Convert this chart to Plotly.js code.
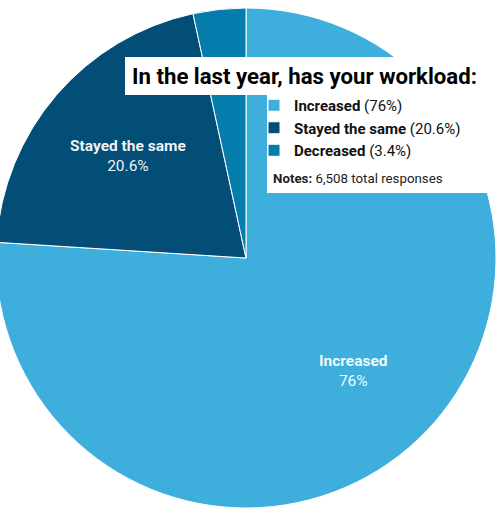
<!DOCTYPE html>
<html>
<head>
<meta charset="utf-8">
<script src="https://cdn.plot.ly/plotly-3.0.1.min.js"></script>
<style>
  html, body { margin: 0; padding: 0; background: #ffffff; overflow: hidden; width: 498px; height: 514px; }
  #chart { position: absolute; left: -4px; top: 0; width: 500px; height: 514px; }
</style>
</head>
<body>
<div id="chart"></div>
<script>
// ---- data ----
const categories = ["Increased", "Stayed the same", "Decreased"];
const values = [76, 20.6, 3.4];
const valueLabels = ["76%", "20.6%", "3.4%"];
const sliceColors = ["#3eafdd", "#034e77", "#047dad"];
const titleText = "In the last year, has your workload:";
const notesLabel = "Notes:";
const notesText = "6,508 total responses";

// legend labels built from the data
const legendLabels = categories.map((c, i) => "<b>" + c + "</b> (" + valueLabels[i] + ")");

// pixel -> paper helpers (layout 500x514, div shifted 4px left, margin t=2)
const W = 500, H = 514, T = 2, OFF = 4;
const px = x => (x + OFF) / W;
const py = y => (H - y) / (H - T);

const trace = {
  type: "pie",
  labels: legendLabels,
  values: values,
  sort: false,
  direction: "clockwise",
  rotation: 0,
  textinfo: "none",
  hoverinfo: "label",
  marker: { colors: sliceColors, line: { color: "#ffffff", width: 1 } },
  domain: { x: [0, 1], y: [0, 1] },
  showlegend: true
};

// slice label positions (text only)
const sliceLabelPos = [[353, 371], [128, 156], null];
const annotations = [];
categories.forEach((c, i) => {
  const p = sliceLabelPos[i];
  if (!p) return;
  annotations.push({
    xref: "paper", yref: "paper", x: px(p[0]), y: py(p[1]),
    xanchor: "center", yanchor: "middle", showarrow: false, align: "center",
    text: "<b>" + c + "</b><br>" + valueLabels[i],
    font: { family: "Roboto, sans-serif", size: 15.5, color: "rgba(255,255,255,0.95)" }
  });
});
annotations.push({
  xref: "paper", yref: "paper", x: px(130), y: py(76),
  xanchor: "left", yanchor: "middle", showarrow: false,
  text: "<b>" + titleText + "</b>",
  font: { family: "Roboto, sans-serif", size: 22.2, color: "#000000" }
});
annotations.push({
  xref: "paper", yref: "paper", x: px(271), y: py(178.5),
  xanchor: "left", yanchor: "middle", showarrow: false,
  text: "<b>" + notesLabel + "</b> " + notesText,
  font: { family: "Roboto, sans-serif", size: 13.3, color: "#222222" }
});

const shapes = [
  { type: "rect", xref: "paper", yref: "paper", x0: px(125), x1: 1.02, y0: py(95), y1: py(57),
    fillcolor: "#ffffff", line: { width: 0 }, layer: "above" },
  { type: "rect", xref: "paper", yref: "paper", x0: px(267), x1: 1.02, y0: py(193), y1: py(94),
    fillcolor: "#ffffff", line: { width: 0 }, layer: "above" }
];

const layout = {
  width: W, height: H,
  margin: { l: 0, r: 0, t: T, b: 0, pad: 0 },
  paper_bgcolor: "rgba(0,0,0,0)",
  plot_bgcolor: "rgba(0,0,0,0)",
  font: { family: "Roboto, sans-serif", size: 14, color: "#222222" },
  showlegend: true,
  legend: {
    x: px(254), y: py(89), xanchor: "left", yanchor: "top",
    bgcolor: "rgba(0,0,0,0)", borderwidth: 0,
    font: { family: "Roboto, sans-serif", size: 15, color: "#111111" },
    traceorder: "normal"
  },
  shapes: shapes,
  annotations: annotations
};

Plotly.newPlot("chart", [trace], layout, { displayModeBar: false, staticPlot: false });
</script>
</body>
</html>
